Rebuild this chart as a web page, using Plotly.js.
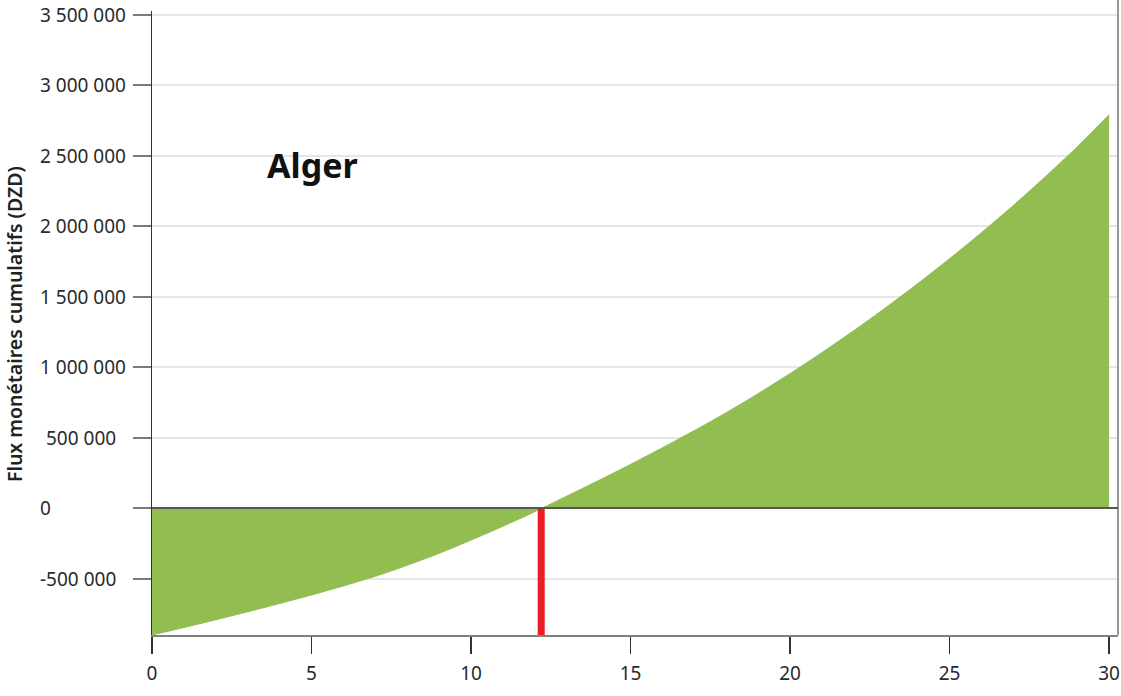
<!DOCTYPE html>
<html>
<head>
<meta charset="utf-8">
<script src="https://cdn.plot.ly/plotly-3.0.1.min.js"></script>
<style>
  html, body { margin: 0; padding: 0; background: #ffffff; }
  #chart { width: 1121px; height: 696px; }
</style>
</head>
<body>
<div id="chart"></div>
<script>
// ---- data ----
const years = [0,1,2,3,4,5,6,7,8,9,10,11,12,13,14,15,16,17,18,19,20,21,22,23,24,25,26,27,28,29,30];
const cumulativeFlow = [-900000,-847000,-792000,-735000,-677000,-616000,-552000,-484000,-406000,-321000,
  -227000,-129000,-25000,85000,196000,310000,428000,550000,677000,812000,
  954000,1103000,1259000,1422000,1592000,1769000,1954000,2147000,2350000,2562000,2790000];
const breakEvenYear = 12.2;
const yTickVals = [-500000,0,500000,1000000,1500000,2000000,2500000,3000000,3500000];
const yTickText = ["-500 000","0","500 000","1 000 000","1 500 000","2 000 000","2 500 000","3 000 000","3 500 000"];
const xTickVals = [0,5,10,15,20,25,30];
const cityLabel = "Alger";
const yTitle = "Flux monétaires cumulatifs (DZD)";

const yMin = -900000, yMax = 3526000;
const fontFam = "'Noto Sans', 'Open Sans', sans-serif";

const traces = [
  {
    x: years, y: cumulativeFlow, type: 'scatter', mode: 'lines',
    fill: 'tozeroy', fillcolor: '#92bd50',
    line: {color: '#92bd50', width: 1, shape: 'spline', smoothing: 0.6},
    hoverinfo: 'x+y'
  },
  {
    x: [breakEvenYear, breakEvenYear], y: [yMin, 0], type: 'scatter', mode: 'lines',
    line: {color: '#ed1c24', width: 7}, hoverinfo: 'x'
  }
];

const annotations = yTickVals.map((v, i) => ({
  xref: 'paper', yref: 'y', x: -0.118, y: v, xanchor: 'left', yanchor: 'middle',
  text: yTickText[i], showarrow: false, xshift: (v === 500000 ? 6 : 0),
  font: {family: fontFam, size: 19, color: '#2a2a2a'}
}));
annotations.push({
  xref: 'paper', yref: 'paper', x: -0.143, y: 0.498, xanchor: 'center', yanchor: 'middle',
  text: yTitle, textangle: -90, showarrow: false,
  font: {family: fontFam, size: 19.5, color: '#222', weight: 600}
});
annotations.push({
  xref: 'x', yref: 'y', x: 5.04, y: 2435000, xanchor: 'center', yanchor: 'middle',
  text: cityLabel, showarrow: false,
  font: {family: fontFam, size: 34, color: '#111', weight: 700}
});

const layout = {
  width: 1121, height: 696,
  margin: {l: 152, r: 3, t: 11, b: 61, pad: 0},
  paper_bgcolor: '#ffffff', plot_bgcolor: '#ffffff',
  showlegend: false,
  xaxis: {
    range: [0, 30.28], tickvals: xTickVals, ticks: 'outside', ticklen: 17,
    tickwidth: 1.5, tickcolor: '#333', showline: true, linecolor: '#808080', linewidth: 2,
    showgrid: false, zeroline: false, layer: 'above traces', ticklabelstandoff: 3,
    tickfont: {family: fontFam, size: 19, color: '#2a2a2a'}
  },
  yaxis: {
    range: [yMin, yMax], tickvals: yTickVals, ticktext: yTickText, showticklabels: false,
    ticks: 'outside', ticklen: 18, tickwidth: 2, tickcolor: '#7a7a7a',
    showline: true, linecolor: '#333', linewidth: 1.5,
    showgrid: true, gridcolor: '#e6e6e6', gridwidth: 2,
    zeroline: true, zerolinecolor: '#555', zerolinewidth: 2,
    layer: 'above traces', zerolinelayer: 'above traces'
  },
  shapes: [
    {type: 'line', xref: 'paper', yref: 'paper', x0: 1, x1: 1, y0: 0, y1: 1.02,
     line: {color: '#999', width: 2}},
    {type: 'line', xref: 'paper', yref: 'y', x0: 0, x1: 1, y0: 0, y1: 0,
     line: {color: '#555', width: 2}, layer: 'above'}
  ],
  annotations: annotations
};

Plotly.newPlot('chart', traces, layout, {displayModeBar: false, staticPlot: true});
</script>
</body>
</html>
